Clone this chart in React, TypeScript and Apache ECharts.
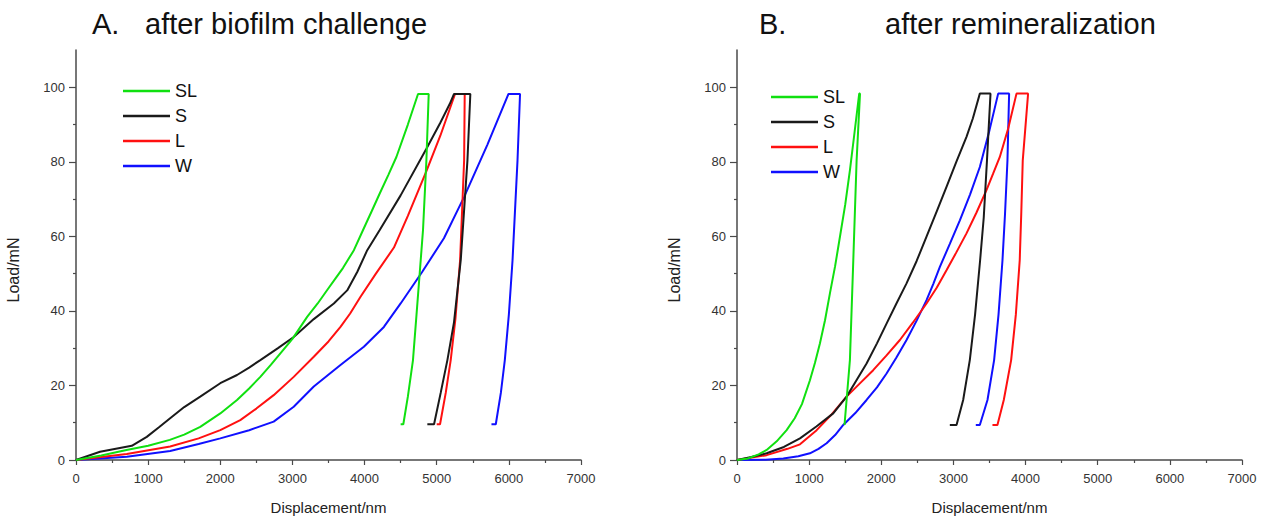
import React, { useEffect, useRef } from "react";
import * as echarts from "echarts";

const seriesNames = ["SL", "S", "L", "W"];
const seriesColors = ["#10e010", "#1a1a1a", "#ff1010", "#1010ff"];

const xTickMax = 7000;
const yMajorTicks = [0, 20, 40, 60, 80, 100];
const yMinorTicks = [10, 30, 50, 70, 90];

// A. after biofilm challenge  [displacement nm, load mN]
const aSL = [[0,0],[350,1.2],[700,2.7],[1000,3.8],[1300,5.4],[1500,6.8],[1722,8.9],[2000,12.5],[2232,16.1],[2400,19.2],[2555,22.3],[2700,25.5],[2833,28.6],[3000,32.5],[3204,38.4],[3350,42],[3482,45.6],[3600,48.8],[3700,51.5],[3852,56.3],[3979,61.7],[4100,66.8],[4210,71.5],[4330,76.5],[4441,81.3],[4600,90],[4741,98.2],[4889,98.2],[4857,80.4],[4810,61.7],[4778,53.6],[4720,39],[4671,26.8],[4600,17],[4537,9.6],[4500,9.6]];
const aS = [[0,0],[333,2.2],[773,3.8],[981,6.2],[1150,8.8],[1305,11.2],[1500,14.2],[1722,17],[2000,20.6],[2232,22.8],[2400,24.8],[2555,26.8],[2800,30],[3018,33],[3296,37.8],[3574,42],[3759,45.5],[3900,50.5],[4037,56.3],[4210,61.7],[4500,71],[4857,83.5],[5050,90.5],[5180,95.5],[5240,98.2],[5466,98.2],[5426,80.4],[5333,53.6],[5240,37],[5148,26.8],[5055,18],[4963,9.6],[4870,9.6]];
const aL = [[0,0],[704,1.6],[1305,3.6],[1700,5.8],[2000,8],[2277,10.7],[2500,13.8],[2740,17.4],[3018,22.3],[3296,27.7],[3500,31.8],[3666,35.7],[3800,39.3],[3944,43.8],[4150,49.8],[4407,57],[4600,65.5],[4857,77.5],[5050,87],[5254,98.2],[5388,98.2],[5380,80.4],[5324,53.6],[5260,38],[5194,26.8],[5125,18],[5046,9.6],[5000,9.6]];
const aW = [[0,0],[704,0.9],[1305,2.4],[1700,4.3],[2000,5.8],[2400,8],[2740,10.3],[3018,14.3],[3296,19.7],[3666,25.5],[3990,30.4],[4268,35.7],[4500,42],[4800,50.5],[5100,59.5],[5380,70.6],[5700,84.5],[5995,98.2],[6155,98.2],[6120,80.4],[6051,53.6],[6000,39],[5944,26.8],[5889,18],[5819,9.6],[5759,9.6]];

// B. after remineralization
const bSL = [[0,0],[150,0.4],[300,1.5],[411,2.7],[550,5],[688,8],[800,11.2],[900,15],[1011,21.4],[1080,26],[1150,31.3],[1220,37.5],[1288,44.7],[1360,52],[1427,59.9],[1500,68.5],[1565,77.7],[1630,88],[1694,98.3],[1705,98.3],[1658,80.4],[1612,53.6],[1565,26.8],[1519,16.1],[1490,9.4]];
const bS = [[0,0],[200,0.8],[411,1.8],[650,3.5],[873,5.8],[1100,9],[1334,12.5],[1519,17],[1650,21.2],[1796,25.9],[1940,31.3],[2073,36.6],[2210,42],[2350,47.4],[2490,53.4],[2627,59.9],[2770,66.8],[2904,73.3],[3040,80],[3181,86.7],[3270,91.7],[3366,98.3],[3514,98.3],[3465,80.4],[3420,65],[3370,53.6],[3300,39],[3227,26.8],[3135,16.1],[3043,9.4],[2950,9.4]];
const bL = [[0,0],[411,1.3],[700,3],[873,4.2],[1104,8],[1300,12],[1519,17],[1700,20.5],[1888,24.1],[2070,28],[2258,32.2],[2440,36.9],[2627,42],[2770,46.3],[2904,50.9],[3040,55.7],[3181,60.8],[3320,66.4],[3458,72.4],[3550,76.8],[3643,81.3],[3760,89],[3874,98.3],[4035,98.3],[3961,80.4],[3940,66],[3919,53.6],[3865,39],[3800,26.8],[3698,16.1],[3610,9.4],[3541,9.4]];
const bW = [[0,0],[400,0.1],[642,0.4],[850,1],[1011,1.8],[1130,3],[1242,4.5],[1360,6.7],[1473,9.4],[1640,12.6],[1796,16.1],[1940,19.5],[2073,23.2],[2210,27.5],[2350,32.2],[2490,37.4],[2627,42.9],[2720,47.2],[2812,51.8],[2950,58],[3089,64.3],[3230,71.2],[3366,78.6],[3500,88.5],[3620,98.3],[3772,98.3],[3749,80.4],[3715,66],[3680,53.6],[3625,39],[3564,26.8],[3472,16.1],[3366,9.4],[3310,9.4]];

const FONT = "'Liberation Sans', Arial, sans-serif";
const AXIS_COLOR = "#4a4a4a";

export default function App() {
  const ref = useRef<HTMLDivElement>(null);
  useEffect(() => {
    if (!ref.current) return;
    const chart = echarts.init(ref.current, null, { renderer: "svg" });
    const grids = [
      { left: 76, top: 50, width: 505, height: 410 },
      { left: 737, top: 50, width: 505, height: 410 },
    ];
    const xAxes = [0, 1].map((g) => ({
      gridIndex: g,
      type: "value",
      min: 0,
      max: xTickMax,
      interval: 1000,
      splitLine: { show: false },
      axisLine: { show: true, onZero: false, lineStyle: { color: AXIS_COLOR, width: 1.5 } },
      axisTick: { show: true, length: 5, lineStyle: { color: AXIS_COLOR, width: 1.2 } },
      minorTick: { show: true, splitNumber: 2, length: 3, lineStyle: { color: AXIS_COLOR, width: 1.2 } },
      axisLabel: { fontSize: 13, color: "#333", margin: 12, fontFamily: FONT, formatter: (v: number) => String(v) },
      name: "Displacement/nm",
      nameLocation: "middle",
      nameGap: 40,
      nameTextStyle: { fontSize: 15, color: "#222", fontFamily: FONT },
    }));
    const yAxes: any[] = [];
    [0, 1].forEach((g) => {
      yAxes.push({
        gridIndex: g,
        type: "value",
        position: "left",
        min: 0,
        max: 110,
        splitLine: { show: false },
        axisLine: { show: true, onZero: false, lineStyle: { color: AXIS_COLOR, width: 1.5 } },
        axisTick: { show: true, length: 7, customValues: yMajorTicks, lineStyle: { color: AXIS_COLOR, width: 1.2 } },
        axisLabel: { fontSize: 13, color: "#333", margin: 11, customValues: yMajorTicks, fontFamily: FONT },
        name: "Load/mN",
        nameLocation: "middle",
        nameGap: 55,
        nameTextStyle: { fontSize: 16, color: "#222", fontFamily: FONT, padding: [0, 30, 0, 0] },
      });
      yAxes.push({
        gridIndex: g,
        type: "value",
        position: "left",
        offset: 0,
        min: 0,
        max: 110,
        splitLine: { show: false },
        axisLine: { show: false },
        axisTick: { show: true, length: 3, customValues: yMinorTicks, lineStyle: { color: AXIS_COLOR, width: 1.2 } },
        axisLabel: { show: false },
      });
    });
    const dataA = [aSL, aS, aL, aW];
    const dataB = [bSL, bS, bL, bW];
    const series: any[] = [];
    [dataA, dataB].forEach((set, g) => {
      set.forEach((d, i) => {
        series.push({
          type: "line",
          name: seriesNames[i],
          xAxisIndex: g,
          yAxisIndex: g * 2,
          data: d,
          showSymbol: false,
          symbol: "none",
          lineStyle: { color: seriesColors[i], width: 2 },
          itemStyle: { color: seriesColors[i] },
          z: 10 - i,
        });
      });
    });
    const legendBase = {
      orient: "vertical",
      data: seriesNames,
      icon: "rect",
      itemWidth: 47,
      itemHeight: 2.5,
      itemGap: 7,
      selectedMode: false,
      textStyle: { fontSize: 18, color: "#111", fontFamily: FONT },
    };
    const titleStyle = { fontSize: 29, fontWeight: "normal", color: "#111", fontFamily: FONT };
    chart.setOption({
      animation: false,
      backgroundColor: "#ffffff",
      title: [
        { text: "A.", left: 87, top: 4, textStyle: titleStyle },
        { text: "after biofilm challenge", left: 140, top: 4, textStyle: titleStyle },
        { text: "B.", left: 754, top: 4, textStyle: titleStyle },
        { text: "after remineralization", left: 880, top: 4, textStyle: titleStyle },
      ],
      legend: [
        { ...legendBase, left: 118, top: 77 },
        { ...legendBase, left: 766, top: 83 },
      ],
      grid: grids,
      xAxis: xAxes,
      yAxis: yAxes,
      series,
    });
    return () => chart.dispose();
  }, []);
  return (
    <div
      ref={ref}
      style={{ position: "absolute", left: 0, top: 0, width: 1270, height: 529, background: "#fff" }}
    />
  );
}
